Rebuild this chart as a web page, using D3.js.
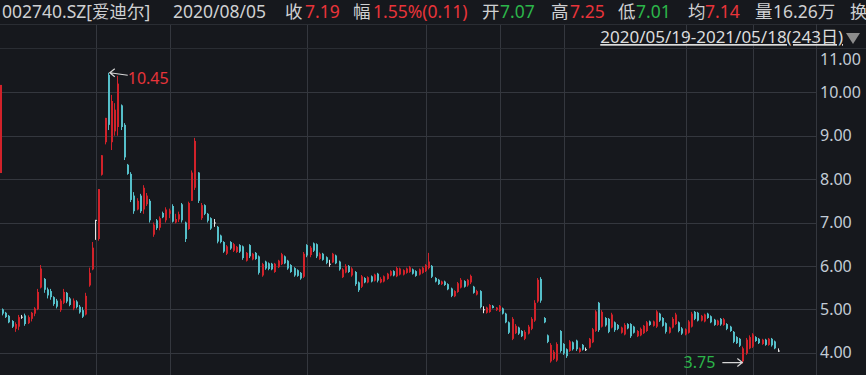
<!DOCTYPE html>
<html>
<head>
<meta charset="utf-8">
<script src="https://cdn.jsdelivr.net/npm/d3@7"></script>
<style>
html, body { margin: 0; padding: 0; background: #16181d; overflow: hidden; }
svg { display: block; }
text { font-family: "Noto Sans", "Noto Sans CJK SC", sans-serif; }
</style>
</head>
<body>
<svg id="chart"></svg>
<script>
// daily candles 2020/05/19 - 2021/05/18, [open, high, low, close]
const candles = [
  [5.00,5.02,4.86,4.90],[4.92,4.94,4.80,4.82],[4.85,4.87,4.68,4.70],[4.73,4.75,4.57,4.60],[4.55,4.70,4.48,4.66],
  [4.60,4.87,4.52,4.82],[4.83,4.87,4.78,4.83],[4.86,4.90,4.62,4.66],[4.68,4.86,4.66,4.82],[4.78,4.94,4.72,4.92],
  [4.90,5.05,4.84,5.02],[5.00,5.47,4.98,5.40],[5.50,6.02,5.48,5.94],[5.70,5.72,5.38,5.45],[5.46,5.50,5.25,5.32],
  [5.42,5.47,5.22,5.28],[5.28,5.30,5.08,5.12],[5.20,5.24,5.02,5.06],[4.98,5.24,4.94,5.20],[5.15,5.47,5.12,5.40],
  [5.38,5.40,5.14,5.18],[5.25,5.28,5.07,5.10],[5.02,5.25,4.98,5.20],[5.18,5.21,5.02,5.05],[5.06,5.10,4.90,4.93],
  [4.98,5.05,4.80,4.83],[4.88,5.38,4.86,5.31],[5.55,5.96,5.52,5.84],[5.92,6.55,5.90,6.42],[7.06,7.06,6.60,7.06],
  [6.62,7.77,6.58,7.77],[8.10,8.55,8.08,8.55],[8.85,9.41,8.80,9.41],[10.40,10.45,9.13,9.25],[8.85,9.94,8.67,9.80],
  [9.10,9.75,9.00,9.60],[9.20,10.38,9.00,10.20],[9.70,9.72,9.13,9.20],[9.25,9.29,8.44,8.50],[8.33,8.35,8.10,8.12],
  [8.12,8.16,7.47,7.52],[7.62,7.70,7.20,7.26],[7.30,7.56,7.28,7.50],[7.62,7.66,7.22,7.26],[7.30,7.86,7.20,7.80],
  [7.42,7.68,7.38,7.62],[7.50,7.54,7.00,7.05],[6.72,7.00,6.67,6.95],[7.05,7.08,6.83,6.87],[6.88,7.14,6.82,7.10],
  [7.22,7.25,7.10,7.12],[7.05,7.35,7.00,7.30],[7.20,7.32,7.10,7.28],[7.38,7.42,7.00,7.02],[7.00,7.20,6.98,7.08],
  [7.07,7.25,7.01,7.19],[7.42,7.45,7.00,7.05],[7.00,7.02,6.55,6.62],[6.85,7.48,6.83,7.45],[7.50,8.20,7.50,8.15],
  [7.80,8.95,7.75,8.88],[8.15,8.16,7.45,7.50],[7.10,7.45,7.06,7.40],[7.40,7.42,7.17,7.20],[7.20,7.22,7.00,7.04],
  [7.10,7.12,6.83,6.86],[7.00,7.08,6.90,7.00],[6.90,6.92,6.52,6.56],[6.70,6.72,6.52,6.55],[6.55,6.57,6.30,6.33],
  [6.28,6.48,6.25,6.45],[6.55,6.57,6.37,6.40],[6.35,6.53,6.32,6.50],[6.32,6.46,6.30,6.44],[6.48,6.50,6.30,6.33],
  [6.45,6.47,6.14,6.18],[6.12,6.32,6.10,6.30],[6.48,6.50,6.18,6.22],[6.15,6.30,6.13,6.28],[6.30,6.32,6.14,6.16],
  [6.22,6.24,5.80,5.84],[5.78,6.07,5.75,6.04],[6.10,6.12,5.91,5.94],[6.06,6.08,5.90,5.93],[6.05,6.07,5.90,5.92],
  [5.86,6.07,5.84,6.05],[5.97,6.14,5.95,6.12],[6.04,6.30,6.02,6.27],[6.22,6.24,6.04,6.06],[6.12,6.14,5.91,5.94],
  [6.02,6.04,5.84,5.86],[5.95,5.97,5.75,5.78],[5.90,5.92,5.75,5.77],[5.84,5.86,5.68,5.71],[5.75,6.32,5.72,6.28],
  [6.48,6.50,6.20,6.24],[6.25,6.46,6.20,6.42],[6.52,6.54,6.32,6.35],[6.50,6.52,6.18,6.22],[6.16,6.31,6.14,6.28],
  [6.28,6.30,6.12,6.14],[6.20,6.22,6.04,6.07],[6.05,6.14,5.98,6.05],[6.08,6.30,6.07,6.28],[6.24,6.26,6.04,6.06],
  [6.10,6.12,5.89,5.92],[5.74,5.95,5.72,5.92],[5.85,6.04,5.83,6.00],[6.00,6.02,5.84,5.86],[5.78,5.97,5.75,5.94],
  [5.86,5.88,5.54,5.58],[5.62,5.64,5.40,5.44],[5.52,5.79,5.49,5.76],[5.72,5.74,5.60,5.62],[5.62,5.76,5.60,5.74],
  [5.76,5.78,5.62,5.64],[5.66,5.82,5.64,5.80],[5.82,5.84,5.62,5.66],[5.62,5.74,5.60,5.70],[5.64,5.78,5.62,5.76],
  [5.70,5.84,5.68,5.82],[5.78,5.90,5.76,5.88],[5.88,5.90,5.76,5.78],[5.76,5.98,5.74,5.95],[5.80,5.96,5.78,5.94],
  [5.80,5.92,5.78,5.90],[5.84,5.96,5.82,5.94],[5.86,6.00,5.84,5.97],[5.92,5.94,5.80,5.82],[5.88,5.90,5.75,5.77],
  [5.80,5.94,5.78,5.92],[5.84,5.98,5.82,5.96],[5.88,6.04,5.86,6.02],[5.95,6.30,5.92,6.10],[6.00,6.02,5.72,5.75],
  [5.72,5.74,5.62,5.64],[5.68,5.70,5.56,5.58],[5.58,5.66,5.56,5.64],[5.64,5.66,5.54,5.56],[5.58,5.60,5.44,5.46],
  [5.48,5.50,5.28,5.31],[5.30,5.44,5.28,5.42],[5.40,5.63,5.38,5.60],[5.50,5.72,5.48,5.68],[5.65,5.67,5.50,5.52],
  [5.55,5.70,5.52,5.68],[5.62,5.80,5.58,5.77],[5.52,5.54,5.36,5.38],[5.34,5.45,5.32,5.42],[5.42,5.44,5.02,5.05],
  [5.00,5.07,4.91,5.00],[4.92,5.06,4.90,5.04],[4.94,5.12,4.92,5.10],[5.08,5.10,5.02,5.03],[4.98,5.05,4.96,5.04],
  [4.96,5.10,4.94,5.08],[5.02,5.04,4.88,4.90],[4.90,4.92,4.68,4.70],[4.70,4.72,4.43,4.46],[4.32,4.82,4.29,4.78],
  [4.45,4.66,4.43,4.62],[4.58,4.60,4.41,4.44],[4.50,4.52,4.36,4.38],[4.32,4.52,4.29,4.48],[4.44,4.64,4.42,4.60],
  [4.55,4.82,4.52,4.78],[4.74,5.21,4.71,5.15],[5.18,5.72,5.15,5.68],[5.70,5.74,5.15,5.20],[4.80,4.82,4.68,4.70],
  [4.40,4.42,4.22,4.25],[3.80,4.22,3.77,4.18],[3.86,4.06,3.83,4.02],[3.82,4.24,3.79,4.20],[4.50,4.52,4.00,4.04],
  [4.20,4.22,3.95,3.98],[4.08,4.10,3.88,3.92],[4.04,4.29,4.02,4.26],[4.24,4.26,4.05,4.08],[4.28,4.30,4.04,4.08],
  [4.02,4.12,4.00,4.10],[4.18,4.20,4.05,4.07],[4.08,4.12,4.04,4.08],[4.12,4.34,4.10,4.32],[4.24,4.57,4.22,4.54],
  [4.50,4.98,4.48,4.95],[5.15,5.17,4.48,4.52],[4.60,4.98,4.58,4.94],[4.80,4.82,4.60,4.63],[4.78,4.80,4.45,4.48],
  [4.58,4.92,4.56,4.88],[4.70,4.72,4.48,4.52],[4.64,4.66,4.52,4.55],[4.46,4.60,4.44,4.58],[4.42,4.68,4.40,4.64],
  [4.66,4.68,4.54,4.56],[4.66,4.68,4.34,4.38],[4.60,4.62,4.44,4.46],[4.38,4.52,4.36,4.50],[4.40,4.58,4.38,4.55],
  [4.45,4.64,4.43,4.62],[4.50,4.73,4.48,4.70],[4.72,4.74,4.62,4.64],[4.62,4.74,4.60,4.72],[4.60,4.98,4.57,4.95],
  [4.90,4.92,4.71,4.74],[4.80,4.82,4.60,4.62],[4.68,4.70,4.44,4.48],[4.46,4.60,4.44,4.58],[4.58,4.82,4.56,4.78],
  [4.66,4.92,4.64,4.88],[4.70,4.72,4.47,4.50],[4.56,4.59,4.41,4.44],[4.42,4.56,4.40,4.54],[4.46,4.75,4.44,4.72],
  [4.60,4.94,4.58,4.90],[4.94,4.96,4.75,4.78],[4.92,4.94,4.72,4.74],[4.74,4.87,4.72,4.85],[4.72,4.90,4.70,4.88],
  [4.90,4.92,4.78,4.80],[4.84,4.86,4.68,4.70],[4.76,4.78,4.62,4.64],[4.64,4.76,4.62,4.74],[4.78,4.80,4.62,4.65],
  [4.64,4.80,4.62,4.77],[4.66,4.68,4.52,4.55],[4.60,4.62,4.48,4.50],[4.48,4.50,4.22,4.25],[4.36,4.38,4.20,4.22],
  [4.32,4.34,4.13,4.16],[3.80,4.14,3.75,4.10],[3.98,4.34,3.95,4.30],[4.10,4.40,4.08,4.36],[4.14,4.45,4.11,4.42],
  [4.36,4.38,4.25,4.27],[4.32,4.34,4.20,4.22],[4.20,4.32,4.18,4.30],[4.30,4.32,4.16,4.18],[4.18,4.34,4.16,4.32],
  [4.32,4.34,4.14,4.17],[4.26,4.28,4.08,4.10],[4.05,4.10,4.02,4.05]
];

const yTicks = [4, 5, 6, 7, 8, 9, 10];
const yTopTick = 11;
// index of the first trading day of the months that get a grid line (Jul, Aug, Oct, Dec, Jan, Feb, Apr, May)
const monthStarts = [29, 52, 95, 132, 155, 175, 213, 234];
// red marker on the left edge (price span)
const edgeMark = [8.14, 10.17];

const quoteCode = "002740.SZ[爱迪尔]";
const quoteDate = "2020/08/05";
const quoteLabels = ["收", "幅", "开", "高", "低", "均", "量", "换"];
const quoteValues = ["7.19", "1.55%(0.11)", "7.07", "7.25", "7.01", "7.14", "16.26万", ""];
const quoteTone = ["up", "up", "down", "up", "down", "up", "flat", "flat"];
const rangeLabel = "2020/05/19-2021/05/18(243日)";

const width = 866, height = 375;
const margin = {top: 48, right: 50, bottom: 0, left: 0};
const axisX = 816;

const colors = {
  bg: "#16181d", grid: "#34373e", axisText: "#c3ccd6", text: "#cfd0d2",
  up: "#d1222a", down: "#55bfc9", flat: "#e6e6e6",
  upText: "#e8343a", downText: "#2cb54a"
};
const layout = {
  labelX: [285, 353, 482, 551, 618, 688, 755, 850],
  valueX: [305, 373, 500, 570, 636, 705, 773, 870]
};

const svg = d3.select("#chart").attr("width", width).attr("height", height);
svg.append("rect").attr("width", width).attr("height", height).attr("fill", colors.bg);

const x = d3.scaleLinear().domain([0, candles.length - 1]).range([3, 778.6]);
const y = d3.scaleLinear().domain([4, 10]).range([352.7, 92.3]);

// grid
svg.append("g")
  .selectAll("line")
  .data(yTicks)
  .join("line")
    .attr("x1", 0).attr("x2", axisX)
    .attr("y1", d => Math.round(y(d)) + 0.5).attr("y2", d => Math.round(y(d)) + 0.5)
    .attr("stroke", colors.grid);

svg.append("g")
  .selectAll("line")
  .data(monthStarts)
  .join("line")
    .attr("x1", d => Math.round(x(d)) + 0.5).attr("x2", d => Math.round(x(d)) + 0.5)
    .attr("y1", 24).attr("y2", height)
    .attr("stroke", colors.grid);

svg.append("line").attr("x1", 0).attr("x2", width).attr("y1", 24.5).attr("y2", 24.5).attr("stroke", "#2a2d33");
svg.append("line").attr("x1", 0).attr("x2", width).attr("y1", margin.top + 0.5).attr("y2", margin.top + 0.5).attr("stroke", "#2a2d33");
svg.append("line").attr("x1", axisX + 0.5).attr("x2", axisX + 0.5).attr("y1", 24).attr("y2", height).attr("stroke", colors.grid);

// y axis labels
const yAxis = d3.axisRight(y).tickValues(yTicks).tickFormat(d3.format(".2f")).tickSize(0).tickPadding(4);
svg.append("g")
  .attr("transform", `translate(${axisX},0)`)
  .call(yAxis)
  .call(g => g.select(".domain").remove())
  .call(g => g.selectAll("text")
      .attr("fill", colors.axisText)
      .attr("font-size", 16)
      .attr("font-family", "\"Noto Sans\", sans-serif"));
svg.append("text")
  .attr("x", axisX + 4)
  .attr("y", Math.max(y(yTopTick), margin.top + 12))
  .attr("dy", "0.32em")
  .attr("fill", colors.axisText)
  .attr("font-size", 16)
  .text(d3.format(".2f")(yTopTick));

// left edge marker
svg.append("rect")
  .attr("x", 0).attr("width", 2)
  .attr("y", y(edgeMark[1])).attr("height", y(edgeMark[0]) - y(edgeMark[1]))
  .attr("fill", colors.up);

// candles
const tone = d => d[3] > d[0] ? colors.up : (d[3] < d[0] ? colors.down : colors.flat);
const cx = i => Math.round(x(i));
const gC = svg.append("g");
gC.selectAll("line")
  .data(candles)
  .join("line")
    .attr("x1", (d, i) => cx(i) - 0.5).attr("x2", (d, i) => cx(i) - 0.5)
    .attr("y1", d => y(d[1])).attr("y2", d => y(d[2]))
    .attr("stroke", tone)
    .attr("stroke-width", 1);
gC.selectAll("rect")
  .data(candles)
  .join("rect")
    .attr("x", (d, i) => cx(i) - 1)
    .attr("width", 2)
    .attr("y", d => y(Math.max(d[0], d[3])))
    .attr("height", d => Math.max(1, Math.abs(y(d[0]) - y(d[3]))))
    .attr("fill", tone);

// max / min annotations
const hiIdx = d3.maxIndex(candles, d => d[1]);
const loIdx = d3.minIndex(candles, d => d[2]);
const hi = candles[hiIdx][1], lo = candles[loIdx][2];
const arrowCol = "#d6d6d6";

const hx = x(hiIdx), hy = y(hi);
svg.append("path")
  .attr("d", `M${hx + 19},${hy + 2.5} L${hx + 1},${hy} M${hx + 6},${hy - 4} L${hx + 1},${hy} L${hx + 6},${hy + 4}`)
  .attr("stroke", arrowCol).attr("fill", "none").attr("stroke-width", 1.2);
svg.append("text")
  .attr("x", hx + 19).attr("y", hy + 6)
  .attr("dy", "0.32em")
  .attr("fill", colors.upText)
  .attr("font-size", 16)
  .text(hi.toFixed(2));

const lx = x(loIdx), ly = y(lo);
svg.append("path")
  .attr("d", `M${lx - 21},${ly - 1} L${lx - 1},${ly - 1} M${lx - 6},${ly - 5} L${lx - 1},${ly - 1} L${lx - 6},${ly + 3}`)
  .attr("stroke", arrowCol).attr("fill", "none").attr("stroke-width", 1.2);
svg.append("text")
  .attr("x", lx - 28).attr("y", ly - 1)
  .attr("dy", "0.36em")
  .attr("text-anchor", "end")
  .attr("fill", colors.downText)
  .attr("font-size", 16)
  .text(lo.toFixed(2));

// header
const head = svg.append("g").attr("font-size", 17.5);
head.append("text").attr("x", 2).attr("y", 18).attr("fill", colors.text).text(quoteCode);
head.append("text").attr("x", 173).attr("y", 18).attr("fill", colors.text).text(quoteDate);
quoteLabels.forEach((lab, i) => {
  head.append("text").attr("x", layout.labelX[i]).attr("y", 18).attr("fill", colors.text).text(lab);
  if (quoteValues[i]) {
    head.append("text").attr("x", layout.valueX[i]).attr("y", 18)
      .attr("fill", quoteTone[i] === "up" ? colors.upText : quoteTone[i] === "down" ? colors.downText : colors.text)
      .text(quoteValues[i]);
  }
});

svg.append("text")
  .attr("x", 843).attr("y", 43)
  .attr("text-anchor", "end")
  .attr("fill", "#dcdcdc")
  .attr("font-size", 17)
  .attr("text-decoration", "underline")
  .text(rangeLabel);
svg.append("path")
  .attr("d", "M846,33 L860,33 L853,44 Z")
  .attr("fill", "#8c8c8c");
</script>
</body>
</html>
